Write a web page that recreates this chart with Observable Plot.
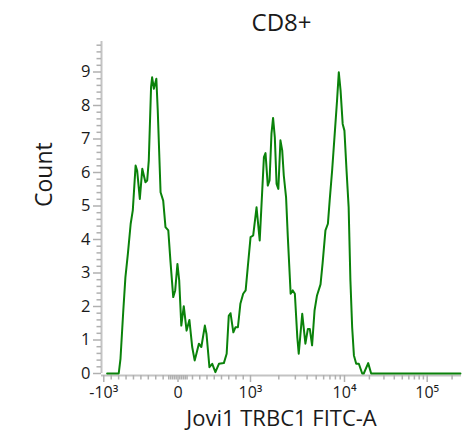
<!DOCTYPE html>
<html>
<head>
<meta charset="utf-8">
<script src="https://cdn.jsdelivr.net/npm/d3@7"></script>
<script src="https://cdn.jsdelivr.net/npm/@observablehq/plot@0.6"></script>
<style>
  html, body { margin: 0; padding: 0; background: #fff; }
  #chart { width: 466px; height: 432px; overflow: hidden; }
</style>
</head>
<body>
<div id="chart"></div>
<script>
// Histogram: display channel (0–1024 across the axis) and count
const channel = [16, 49, 54, 62, 68, 75, 83, 89, 97, 101.5, 109, 116, 125, 130, 134.5, 141, 144, 149, 156, 160,
  168, 175.5, 182, 190, 196, 204, 209.6, 216, 221, 227, 234, 242, 250, 258, 265, 270, 277, 284, 294, 298.7,
  307, 315, 324, 334, 348, 356, 362, 367, 375, 381, 388, 395, 403, 410, 416, 424, 431.5, 441, 450, 462,
  466.5, 473, 478, 483.5, 488, 493, 498, 503, 509, 514, 518.5, 525, 530, 538, 544, 550, 557, 561, 571, 580,
  587, 592.5, 599, 606, 613, 623, 629, 637, 644, 649, 656, 664, 670, 675, 680, 686, 691, 697, 703, 708,
  713, 718, 724.5, 732, 741.5, 746, 758.6, 767, 1021];
const counts = [0, 0, 0.44, 1.88, 2.87, 3.57, 4.47, 4.87, 6.21, 6.05, 5.21, 6.11, 5.71, 5.76, 6.36, 8.55, 8.84, 8.5, 8.8, 7.85,
  5.41, 5.16, 4.37, 4.27, 3.37, 2.28, 2.48, 3.27, 2.78, 1.43, 2.01, 1.28, 1.6, 0.79, 0.39, 0.59, 0.89, 0.79, 1.43, 1.18,
  0.19, 0.29, 0.04, 0.29, 0.31, 0.59, 1.72, 1.8, 1.23, 1.38, 1.38, 2.08, 2.38, 2.48, 3.17, 4.07, 4.12, 4.96, 3.97, 6.46,
  6.58, 5.61, 5.76, 7.16, 7.63, 7.05, 5.66, 5.51, 6.96, 6.66, 5.91, 5.26, 4.07, 2.38, 2.48, 2.38, 1.08, 0.59, 1.78, 0.89,
  1.33, 1.33, 0.84, 1.88, 2.33, 2.66, 3.3, 4.27, 4.47, 5.16, 6.06, 7.25, 8.15, 8.99, 8.45, 7.45, 7.25, 6.06, 4.96, 2.78,
  1.38, 0.54, 0.29, 0.29, 0, 0, 0.31, 0, 0];

// Biexponential x axis: major tick values, their labels and their display channels
const tickValues = [-1000, 0, 1000, 1e4, 1e5];
const tickLabels = ["-10\u00B3", "0", "10\u00B3", "10\u2074", "10\u2075"];
const tickChannels = [6.5, 217.6, 423.8, 691.2, 926.4];

const yMajor = [0, 1, 2, 3, 4, 5, 6, 7, 8, 9];
const yMinor = d3.range(0, 50).filter(i => i % 5 !== 0).map(i => i / 5);

const title = "CD8+";
const xTitle = "Jovi1 TRBC1 FITC-A";
const yTitle = "Count";

// value -> channel (linear near zero, logarithmic above 10^3)
const linPart = d3.scaleLinear().domain(tickValues.slice(0, 3)).range(tickChannels.slice(0, 3));
function toChannel(v) {
  if (v <= 1000) return linPart(v);
  const lv = Math.log10(v);
  const k = Math.min(Math.floor(lv), 4) - 3;
  const a = tickChannels[2 + k], b = tickChannels[3 + k];
  return a + (b - a) * (lv - (3 + k));
}

const minorValues = [
  ...d3.range(-900, -100, 100),
  ...d3.range(-125, 126, 25).filter(v => v !== 0),
  ...d3.range(200, 1000, 100),
  ...d3.range(2000, 10000, 1000),
  ...d3.range(20000, 100000, 10000),
  200000
];
const xMinor = minorValues.map(toChannel);
const xMajor = tickValues.map(toChannel);
const labelOf = new Map(xMajor.map((c, i) => [c, tickLabels[i]]));

const data = channel.map((c, i) => ({channel: c, count: counts[i]}));

const axisGray = "#c3c3c3";
const tickGray = "#b0b0b0";
const textColor = "#1a1a1a";

const chart = Plot.plot({
  width: 466,
  height: 432,
  marginLeft: 101,
  marginRight: 5,
  marginTop: 38,
  marginBottom: 57,
  insetBottom: 2,
  style: {fontFamily: "'Open Sans', 'Noto Sans', sans-serif", background: "#fff", overflow: "visible"},
  x: {domain: [0, 1024]},
  y: {domain: [0, 10]},
  marks: [
    Plot.ruleY([0], {dy: 2, stroke: axisGray, strokeWidth: 2}),
    Plot.ruleX([0], {y1: 0, y2: 10, insetBottom: -3, stroke: axisGray, strokeWidth: 2}),
    Plot.axisY({ticks: yMinor, tickSize: 4.5, tickFormat: () => "", label: null, stroke: tickGray, strokeWidth: 1.5}),
    Plot.axisY({ticks: yMajor, tickSize: 8, tickPadding: 3, fontSize: 16.5, label: null,
      stroke: tickGray, strokeWidth: 1.5, fill: textColor, tickFormat: d => String(d)}),
    Plot.axisX({ticks: xMinor, tickSize: 4.5, tickFormat: () => "", label: null, stroke: tickGray, strokeWidth: 1.5}),
    Plot.axisX({ticks: xMajor, tickSize: 7, tickPadding: 4, fontSize: 16, label: null,
      stroke: tickGray, strokeWidth: 1.5, fill: textColor, tickFormat: d => labelOf.get(d)}),
    Plot.line(data, {x: "channel", y: "count", stroke: "#0a820a", strokeWidth: 2, curve: "linear"}),
    Plot.text([title], {frameAnchor: "top", dy: -15, lineAnchor: "middle", fontSize: 24, fill: textColor}),
    Plot.text([xTitle], {frameAnchor: "bottom", dy: 43, lineAnchor: "middle", fontSize: 22, fill: textColor}),
    Plot.text([yTitle], {frameAnchor: "left", dx: -57, rotate: -90, lineAnchor: "middle", fontSize: 23, fill: textColor})
  ]
});
document.getElementById("chart").appendChild(chart);
</script>
</body>
</html>
